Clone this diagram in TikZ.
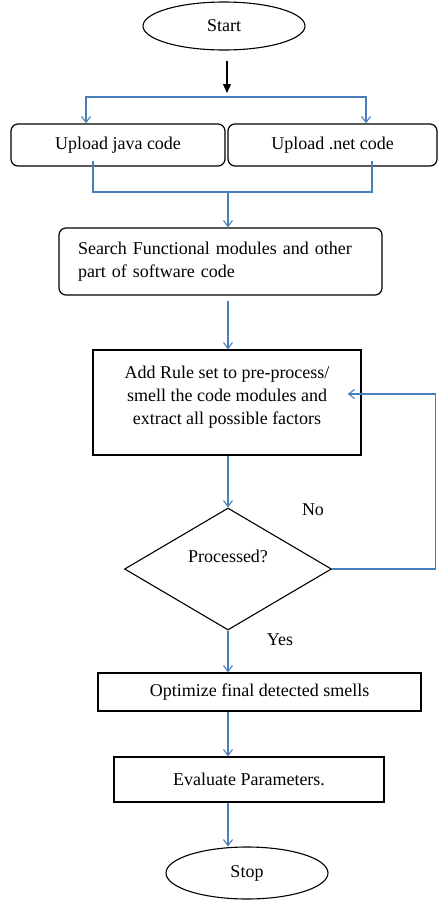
\documentclass[tikz,border=0pt]{standalone}
\usepackage{fontspec}
\setmainfont{Liberation Serif}
\usetikzlibrary{shapes.geometric}
\usetikzlibrary{arrows.meta}
\definecolor{wordblue}{HTML}{4A7EBB}

\begin{document}
\begin{tikzpicture}[x=1pt,y=-1pt,
    font=\fontsize{18}{23}\selectfont,
    terminal/.style={ellipse,draw,line width=1.1pt,inner sep=0pt},
    process/.style={rectangle,draw,line width=1.2pt,inner sep=0pt},
    roundbox/.style={process,rounded corners=7pt},
    decision/.style={diamond,draw,line width=1.1pt,inner sep=0pt,aspect=1.7},
    link/.style={draw=wordblue,line width=1.1pt},
    flow/.style={link,-{Straight Barb[length=6pt,width=9pt]}}]
\useasboundingbox (0,0) rectangle (438,900);

\node[terminal,minimum width=162pt,minimum height=48pt] (start) at (224,26) {Start};
\node[roundbox,minimum width=214pt,minimum height=42pt] (java) at (118,145) {Upload java code};
\node[roundbox,minimum width=209pt,minimum height=42pt] (net) at (332.5,145) {Upload .net code};
\node[roundbox,minimum width=323pt,minimum height=67pt,text width=285pt,inner xsep=19pt,align=left]
    (search) at (220.5,261.5) {Search Functional modules and other\\part of software code};
\node[process,minimum width=268pt,minimum height=105pt,align=center,text depth=14pt]
    (rule) at (227,402.5) {Add Rule set to pre-process/\\smell the code modules and\\extract all possible factors};
\node[decision,minimum width=207pt,minimum height=122pt,text depth=26pt] (check) at (228,569) {Processed?};
\node[process,minimum width=323pt,minimum height=38pt] (optimize) at (259.5,692) {Optimize final detected smells};
\node[process,minimum width=270pt,minimum height=45pt] (evaluate) at (249,779.5) {Evaluate Parameters.};
\node[terminal,minimum width=162pt,minimum height=52pt] (stop) at (247,873) {Stop};

\node (no) at (313,510) {No};
\node (yes) at (280,640) {Yes};

\coordinate (fork) at (227,97);
\coordinate (join) at (228,192);

\draw[line width=1.2pt,-{Triangle[length=9pt,width=8pt]},shorten <=10pt,shorten >=4pt] (fork |- start.south) -- (fork);
\draw[flow] (fork) -| ([xshift=-32pt]java.north);
\draw[flow] (fork) -| ([xshift=33.5pt]net.north);
\draw[link] ([xshift=-25pt,yshift=6pt]java.south) |- (join) -| ([xshift=39.5pt,yshift=6pt]net.south);
\draw[flow] (join) -- (join |- search.north);
\draw[flow,shorten <=5pt] (check.north |- search.south) -- (check.north |- rule.north);
\draw[flow] (check.north |- rule.south) -- (check.north);
\draw[flow] (check.east) -- ++(103,0) |- ([xshift=-14pt,yshift=8.5pt]rule.east);
\draw[flow] (check.south) -- (check.south |- optimize.north);
\draw[flow] (check.south |- optimize.south) -- (check.south |- evaluate.north);
\draw[flow] (check.south |- evaluate.south) -- (check.south |- stop.north);
\end{tikzpicture}
\end{document}
